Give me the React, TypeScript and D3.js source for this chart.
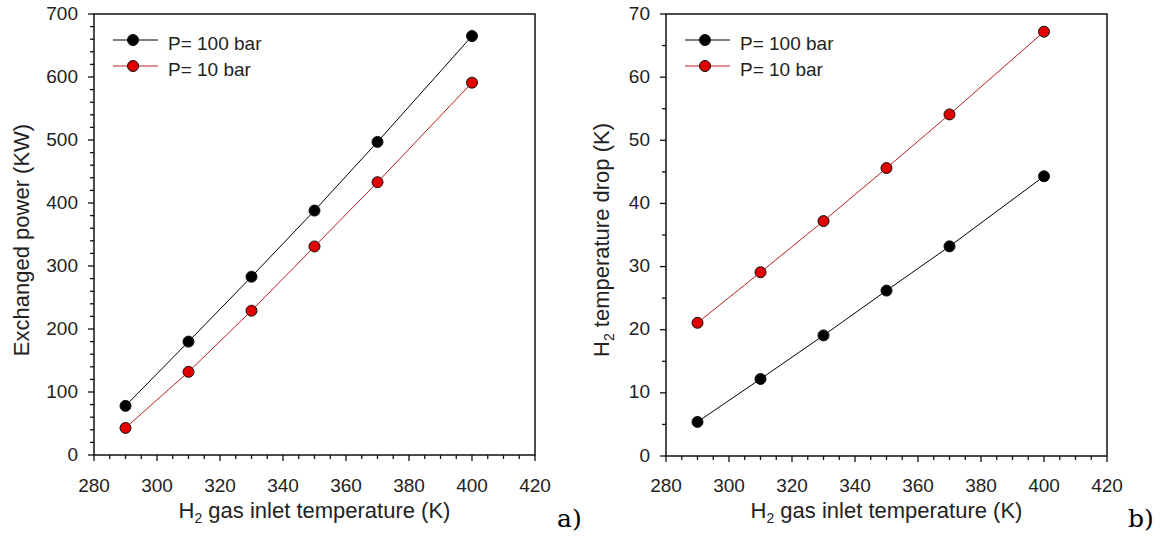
import React from "react";
import * as d3 from "d3";

const temps = [290, 310, 330, 350, 370, 400];
const powerP100 = [78, 180, 283, 388, 497, 665];
const powerP10 = [43, 132, 229, 331, 433, 591];
const dropP100 = [5.4, 12.2, 19.1, 26.2, 33.2, 44.3];
const dropP10 = [21.1, 29.1, 37.2, 45.6, 54.1, 67.2];
const seriesNames = ["P= 100 bar", "P= 10 bar"];
const xTicks = [280, 300, 320, 340, 360, 380, 400, 420];

const W = 1167;
const H = 537;
const FONT = "Liberation Sans, Arial, sans-serif";
const TXT = "#222";

type PanelProps = {
  left: number;
  right: number;
  top: number;
  bottom: number;
  yMax: number;
  yStep: number;
  yMinor: number;
  yLabel: React.ReactNode;
  yLabelX: number;
  s1: number[];
  s2: number[];
  tag: string;
  tagX: number;
};

function Panel(p: PanelProps) {
  const x = d3.scaleLinear().domain([280, 420]).range([p.left, p.right]);
  const y = d3.scaleLinear().domain([0, p.yMax]).range([p.bottom, p.top]);
  const line = d3
    .line<number>()
    .x((_, i) => x(temps[i]))
    .y((d) => y(d));
  const xMinor = d3.range(280, 420.1, 5);
  const yMajor = d3.range(0, p.yMax + 0.01, p.yStep);
  const yMinorT = d3.range(0, p.yMax + 0.01, p.yMinor);
  const series = [
    { vals: p.s1, stroke: "#000", fill: "#000" },
    { vals: p.s2, stroke: "#b82020", fill: "#e00000" },
  ];
  return (
    <g>
      <rect
        x={p.left}
        y={p.top}
        width={p.right - p.left}
        height={p.bottom - p.top}
        fill="none"
        stroke="#111"
        strokeWidth={1.5}
      />
      {xMinor.map((t) => {
        const major = t % 20 === 0;
        return (
          <line
            key={"xm" + t}
            x1={x(t)}
            x2={x(t)}
            y1={p.bottom}
            y2={p.bottom + (major ? 6 : 4)}
            stroke="#111"
            strokeWidth={1.3}
          />
        );
      })}
      {yMinorT.map((t) => {
        const major = Math.abs(t / p.yStep - Math.round(t / p.yStep)) < 1e-6;
        return (
          <line
            key={"ym" + t}
            x1={p.left - (major ? 6 : 4)}
            x2={p.left}
            y1={y(t)}
            y2={y(t)}
            stroke="#111"
            strokeWidth={1.3}
          />
        );
      })}
      {xTicks.map((t) => (
        <text
          key={"xt" + t}
          x={x(t)}
          y={492}
          textAnchor="middle"
          fontSize={19}
          fontFamily={FONT}
          fill={TXT}
        >
          {t}
        </text>
      ))}
      {yMajor.map((t) => (
        <text
          key={"yt" + t}
          x={p.left - 16}
          y={y(t) + 5.5}
          textAnchor="end"
          fontSize={19}
          fontFamily={FONT}
          fill={TXT}
        >
          {t}
        </text>
      ))}
      <text
        x={(p.left + p.right) / 2}
        y={518}
        textAnchor="middle"
        fontSize={22}
        fontFamily={FONT}
        fill={TXT}
      >
        H<tspan fontSize={14} dy={5}>2</tspan>
        <tspan dy={-5}> gas inlet temperature (K)</tspan>
      </text>
      <text
        transform={`translate(${p.yLabelX},240) rotate(-90)`}
        textAnchor="middle"
        fontSize={22}
        fontFamily={FONT}
        fill={TXT}
      >
        {p.yLabel}
      </text>
      {series.map((s, si) => (
        <g key={"s" + si}>
          <path d={line(s.vals) || ""} fill="none" stroke={s.stroke} strokeWidth={1} />
          {s.vals.map((v, i) => (
            <circle
              key={i}
              cx={x(temps[i])}
              cy={y(v)}
              r={5.5}
              fill={s.fill}
              stroke="#111"
              strokeWidth={1}
            />
          ))}
        </g>
      ))}
      {series.map((s, si) => {
        const ly = p.top + 26 + si * 26;
        return (
          <g key={"lg" + si}>
            <line x1={p.left + 19} x2={p.left + 64} y1={ly} y2={ly} stroke={s.stroke} strokeWidth={1} />
            <circle cx={p.left + 39} cy={ly} r={5.5} fill={s.fill} stroke="#111" strokeWidth={1} />
            <text x={p.left + 74} y={ly + 9.5} fontSize={19} fontFamily={FONT} fill={TXT}>
              {seriesNames[si]}
            </text>
          </g>
        );
      })}
      <text x={p.tagX} y={527} fontSize={25} fontFamily="DejaVu Serif, serif" fill="#000">
        {p.tag}
      </text>
    </g>
  );
}

export default function App() {
  return (
    <svg
      width={W}
      height={H}
      style={{ position: "absolute", left: 0, top: 0, background: "#fff" }}
    >
      <Panel
        left={94}
        right={535}
        top={14}
        bottom={455}
        yMax={700}
        yStep={100}
        yMinor={20}
        yLabel="Exchanged power (KW)"
        yLabelX={29}
        s1={powerP100}
        s2={powerP10}
        tag="a)"
        tagX={557}
      />
      <Panel
        left={666}
        right={1107}
        top={14}
        bottom={456}
        yMax={70}
        yStep={10}
        yMinor={5}
        yLabel={
          <>
            H<tspan fontSize={14} dy={5}>2</tspan>
            <tspan dy={-5}> temperature drop (K)</tspan>
          </>
        }
        yLabelX={609}
        s1={dropP100}
        s2={dropP10}
        tag="b)"
        tagX={1128}
      />
    </svg>
  );
}
